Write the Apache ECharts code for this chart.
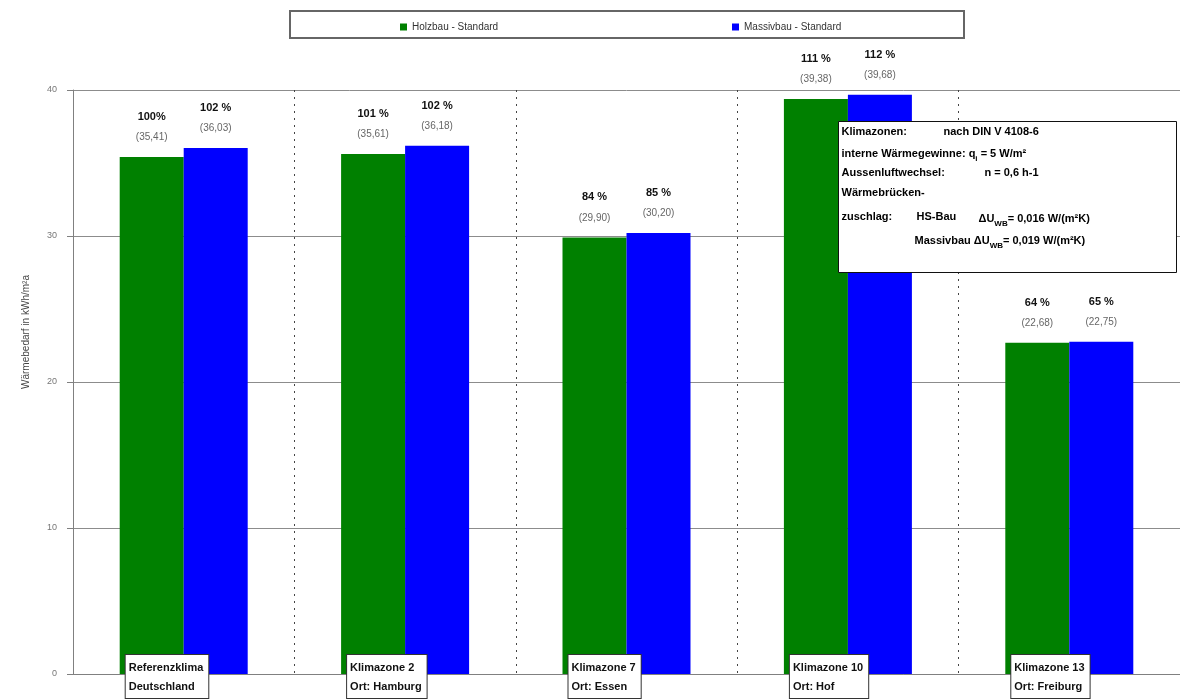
<!DOCTYPE html>
<html>
<head>
<meta charset="utf-8">
<script src="https://cdn.jsdelivr.net/npm/echarts@6/dist/echarts.min.js"></script>
<style>
  html, body { margin: 0; padding: 0; background: #fff; }
  #chart { width: 1180px; height: 700px; }
</style>
</head>
<body>
<div id="chart"></div>
<script>
// Climate regions (x categories)
const categories = [
  'Referenzklima\nDeutschland',
  'Klimazone 2\nOrt: Hamburg',
  'Klimazone 7\nOrt: Essen',
  'Klimazone 10\nOrt: Hof',
  'Klimazone 13\nOrt: Freiburg'
];
const seriesNames = ['Holzbau - Standard', 'Massivbau - Standard'];
// Heat demand in kWh/m²a
const holzbau = [35.41, 35.61, 29.90, 39.38, 22.68];
const massivbau = [36.03, 36.18, 30.20, 39.68, 22.75];
// Relative to the reference climate
const holzbauPct = ['100%', '101 %', '84 %', '111 %', '64 %'];
const massivbauPct = ['102 %', '102 %', '85 %', '112 %', '65 %'];
// Value axis
const yMin = 0, yMax = 40, yStep = 10;

const FONT = "'Liberation Sans', Arial, sans-serif";
const GREEN = '#008000';
const BLUE = '#0000ff';

const fmt = v => '(' + v.toFixed(2).replace('.', ',') + ')';

function valueLabel(pcts) {
  return {
    show: true,
    position: 'top',
    distance: 10,
    fontFamily: FONT,
    formatter: p => '{p|' + pcts[p.dataIndex] + '}\n{v|' + fmt(p.value) + '}',
    rich: {
      p: { fontSize: 11, fontWeight: 'bold', color: '#111', lineHeight: 22, fontFamily: FONT },
      v: { fontSize: 10, color: '#666', lineHeight: 19, fontFamily: FONT }
    }
  };
}

// text pieces of the boundary-conditions note
const NOTE_Z = 100;
const noteFont = 'bold 11px ' + FONT;
function noteText(x, y, text) {
  return { type: 'text', x: x, y: y, z: NOTE_Z, style: { text: text, font: noteFont, fill: '#000' } };
}
function noteRich(x, y, text) {
  return {
    type: 'text', x: x, y: y, z: NOTE_Z,
    style: {
      text: text,
      rich: {
        b: { font: noteFont, fill: '#000', lineHeight: 18 },
        s: { font: 'bold 8px ' + FONT, fill: '#000', verticalAlign: 'bottom', lineHeight: 18 }
      }
    }
  };
}

const chart = echarts.init(document.getElementById('chart'), null, { renderer: 'canvas' });

chart.setOption({
  backgroundColor: '#fff',
  animation: false,
  textStyle: { fontFamily: FONT },
  grid: { left: 73, right: -6, top: 90, bottom: 26, containLabel: false },
  legend: [
    {
      data: [seriesNames[0]], left: 395, top: 17,
      icon: 'rect', itemWidth: 7, itemHeight: 7, itemGap: 5,
      textStyle: { fontSize: 10, color: '#333', fontFamily: FONT }
    },
    {
      data: [seriesNames[1]], left: 727, top: 17,
      icon: 'rect', itemWidth: 7, itemHeight: 7, itemGap: 5,
      textStyle: { fontSize: 10, color: '#333', fontFamily: FONT }
    }
  ],
  xAxis: {
    type: 'category',
    data: categories,
    boundaryGap: true,
    axisLine: { show: true, lineStyle: { color: '#808080', width: 1 } },
    axisTick: { show: false },
    axisLabel: { show: false },
    splitLine: {
      show: true,
      showMinLine: false,
      showMaxLine: false,
      lineStyle: { color: '#444', type: [2, 5], width: 1 }
    }
  },
  yAxis: {
    type: 'value',
    min: yMin, max: yMax, interval: yStep,
    name: 'Wärmebedarf in kWh/m²a',
    nameLocation: 'middle',
    nameRotate: 90,
    nameGap: 42,
    nameTextStyle: { fontSize: 10, color: '#444', fontFamily: FONT, padding: [0, 0, 0, 100] },
    axisLine: { show: true, lineStyle: { color: '#808080', width: 1 } },
    axisTick: { show: true, inside: false, length: 6, lineStyle: { color: '#808080' } },
    axisLabel: { fontSize: 9, color: '#777', margin: 16, fontFamily: FONT },
    splitLine: { show: true, lineStyle: { color: '#8c8c8c', width: 1 } }
  },
  series: [
    {
      name: seriesNames[0],
      type: 'bar',
      data: holzbau,
      barWidth: 64,
      barGap: '0%',
      itemStyle: { color: GREEN },
      label: valueLabel(holzbauPct),
      z: 2
    },
    {
      name: seriesNames[1],
      type: 'bar',
      data: massivbau,
      barWidth: 64,
      barGap: '0%',
      itemStyle: { color: BLUE },
      label: valueLabel(massivbauPct),
      z: 2
    },
    {
      // boxed region names sitting on the base line
      name: 'Regionen',
      type: 'scatter',
      data: categories.map((c, i) => [i, yMin]),
      symbolSize: 0,
      silent: true,
      clip: false,
      z: 5,
      itemStyle: { opacity: 1 },
      label: {
        show: true,
        position: 'bottom',
        distance: 0,
        offset: [-58, -19],
        formatter: p => categories[p.dataIndex],
        align: 'left',
        fontSize: 11,
        fontWeight: 'bold',
        color: '#111',
        lineHeight: 19,
        fontFamily: FONT,
        backgroundColor: '#fff',
        borderColor: '#333',
        borderWidth: 1,
        padding: [3, 5, 2, 3],
        opacity: 1
      },
      emphasis: { disabled: true }
    }
  ],
  graphic: [
    {
      // legend frame
      type: 'rect',
      left: 289, top: 10,
      shape: { width: 674, height: 27 },
      style: { fill: 'rgba(0,0,0,0)', stroke: '#666', lineWidth: 2 },
      z: 0
    },
    {
      // boundary conditions note
      type: 'group',
      left: 838, top: 121,
      z: NOTE_Z,
      children: [
        {
          type: 'rect', z: NOTE_Z,
          shape: { x: 0, y: 0, width: 338, height: 151 },
          style: { fill: '#fff', stroke: '#111', lineWidth: 1 }
        },
        noteText(3, 5, 'Klimazonen:'),
        noteText(105, 5, 'nach DIN V 4108-6'),
        noteRich(3, 23, '{b|interne Wärmegewinne: q}{s|i}{b| = 5 W/m²}'),
        noteText(3, 46, 'Aussenluftwechsel:'),
        noteText(146, 46, 'n = 0,6 h-1'),
        noteText(3, 66, 'Wärmebrücken-'),
        noteText(3, 90, 'zuschlag:'),
        noteText(78, 90, 'HS-Bau'),
        noteRich(140, 88, '{b|ΔU}{s|WB}{b|= 0,016 W/(m²K)}'),
        noteRich(76, 110, '{b|Massivbau }{b|ΔU}{s|WB}{b|= 0,019 W/(m²K)}')
      ]
    }
  ]
});
</script>
</body>
</html>
